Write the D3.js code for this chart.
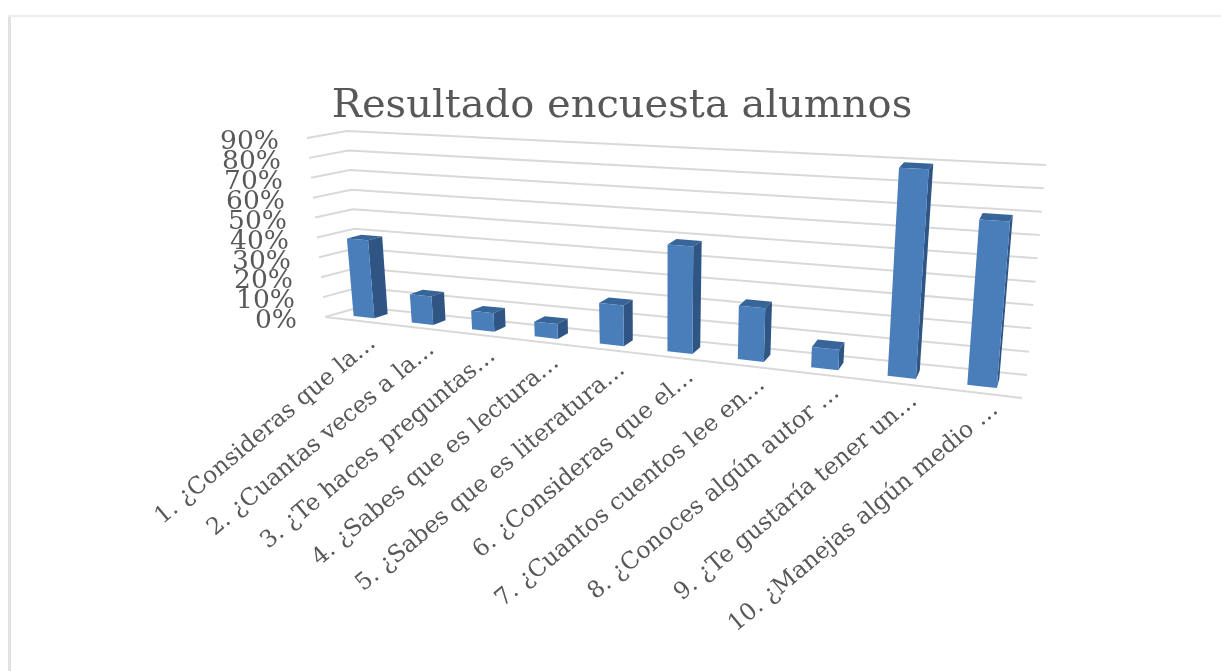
<!DOCTYPE html>
<html>
<head>
<meta charset="utf-8">
<script src="https://cdn.jsdelivr.net/npm/d3@7"></script>
<style>
  html, body { margin: 0; padding: 0; background: #fff; overflow: hidden; }
  text { font-family: "DejaVu Serif", serif; fill: #595959; }
</style>
</head>
<body>
<script>
const titleText = 'Resultado encuesta alumnos';
const categories = [
    '1. ¿Consideras que la…',
    '2. ¿Cuantas veces a la…',
    '3. ¿Te haces preguntas…',
    '4. ¿Sabes que es lectura…',
    '5. ¿Sabes que es literatura…',
    '6. ¿Consideras que el…',
    '7. ¿Cuantos cuentos lee en…',
    '8. ¿Conoces algún autor …',
    '9. ¿Te gustaría tener un…',
    '10. ¿Manejas algún medio …'
];
const values = [39, 14, 9, 7, 19, 49, 24, 9, 90, 70];
const tickValues = [0, 10, 20, 30, 40, 50, 60, 70, 80, 90];
const tickLabels = ['0%', '10%', '20%', '30%', '40%', '50%', '60%', '70%', '80%', '90%'];

const width = 1221;
const height = 671;

// corners of the 3d plot box on screen (front/back, left/right, floor/top)
const floor = { fl: [325, 317], fr: [1022, 398], bl: [360, 307], br: [1027, 375] };
const top_ = { fl: [307, 138], fr: [1040, 180], bl: [347, 131], br: [1046, 165] };
const perspective = 0.18; // bars get wider towards the right
const barDepth = [0.3, 0.7];

const mix = (a, b, s) => [a[0] + (b[0] - a[0]) * s, a[1] + (b[1] - a[1]) * s];
const warp = u => (1 - perspective) * u / (1 - perspective * u);

function project(u, v, h) {
    const t = warp(u);
    const plane = c => mix(mix(c.fl, c.fr, t), mix(c.bl, c.br, t), v);
    return mix(plane(floor), plane(top_), h);
}

const x = d3.scaleBand().domain(categories).range([0, 1]).paddingInner(0.64).paddingOuter(0.32);
const y = d3.scaleLinear().domain([0, 90]).range([0, 1]);

const svg = d3.select('body').append('svg')
    .attr('width', width)
    .attr('height', height)
    .attr('viewBox', `0 0 ${width} ${height}`)
    .style('display', 'block');

const blur = svg.append('defs').append('filter')
    .attr('id', 'soft')
    .attr('x', '-5%').attr('y', '-5%').attr('width', '110%').attr('height', '110%');
blur.append('feGaussianBlur').attr('stdDeviation', 0.7);

// chart frame, the left edge is a bit heavier in the screenshot
svg.append('line')
    .attr('x1', 9.5).attr('y1', 15)
    .attr('x2', 9.5).attr('y2', height)
    .attr('stroke', '#e2e2e2')
    .attr('stroke-width', 3);
svg.append('line')
    .attr('x1', 8).attr('y1', 16)
    .attr('x2', width).attr('y2', 16)
    .attr('stroke', '#ececec')
    .attr('stroke-width', 2);

const chart = svg.append('g').attr('filter', 'url(#soft)');

chart.append('text')
    .attr('class', 'title')
    .attr('x', 622)
    .attr('y', 117)
    .attr('text-anchor', 'middle')
    .attr('font-size', 40)
    .text(titleText);

// gridlines run along the left wall and then the back wall
const line = d3.line();
chart.append('g').selectAll('path')
    .data(tickValues)
    .join('path')
    .attr('d', d => line([project(0, 0, y(d)), project(0, 1, y(d)), project(1, 1, y(d))]))
    .attr('fill', 'none')
    .attr('stroke', '#d9d9d9')
    .attr('stroke-width', 2);

chart.append('path')
    .attr('d', line([project(0, 0, 0), project(1, 0, 0)]))
    .attr('fill', 'none')
    .attr('stroke', '#d9d9d9')
    .attr('stroke-width', 2);

chart.append('g').selectAll('text')
    .data(tickValues)
    .join('text')
    .attr('x', d => project(0, 0, y(d))[0] - 28)
    .attr('y', d => project(0, 0, y(d))[1] + 2)
    .attr('dy', '0.35em')
    .attr('text-anchor', 'end')
    .attr('font-size', 26.5)
    .text((d, i) => tickLabels[i]);

// each bar is three faces of a box
const bars = chart.append('g').selectAll('g')
    .data(categories.map((c, i) => ({ c, v: values[i] })))
    .join('g');

const corner = (d, side, depth, level) =>
    project(x(d.c) + side * x.bandwidth(), barDepth[depth], y(level));

bars.append('path')
    .attr('fill', '#386599')
    .attr('d', d => line([corner(d, 0, 0, d.v), corner(d, 1, 0, d.v), corner(d, 1, 1, d.v), corner(d, 0, 1, d.v)]) + 'Z');
bars.append('path')
    .attr('fill', '#2f5484')
    .attr('d', d => line([corner(d, 1, 0, 0), corner(d, 1, 1, 0), corner(d, 1, 1, d.v), corner(d, 1, 0, d.v)]) + 'Z');
bars.append('path')
    .attr('fill', '#4a7ebb')
    .attr('d', d => line([corner(d, 0, 0, 0), corner(d, 1, 0, 0), corner(d, 1, 0, d.v), corner(d, 0, 0, d.v)]) + 'Z');

// labels sit a little closer to the floor edge towards the right
chart.append('g').selectAll('text')
    .data(categories)
    .join('text')
    .attr('text-anchor', 'end')
    .attr('font-size', 23.5)
    .attr('transform', d => {
        const u = x(d) + x.bandwidth() / 2;
        const p = project(u, 0, 0);
        return `translate(${p[0] + 23 - 4 * u},${p[1] + 25 - 7 * u}) rotate(-40)`;
    })
    .text(d => d);
</script>
</body>
</html>
